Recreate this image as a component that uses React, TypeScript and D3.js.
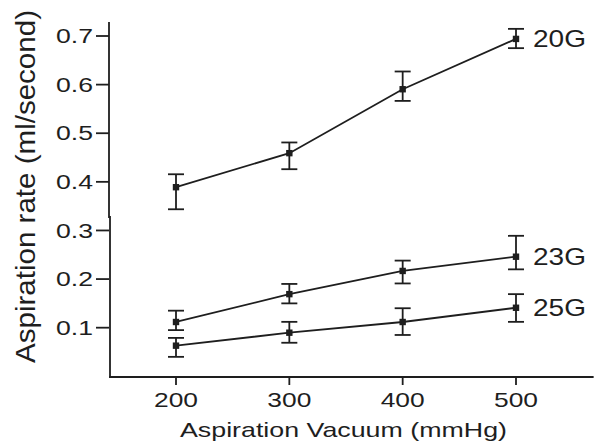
import React from "react";
import * as d3 from "d3";

const vacuum = [200, 300, 400, 500];
const seriesNames = ["20G", "23G", "25G"];
const mean20G = [0.389, 0.459, 0.5905, 0.694];
const upper20G = [0.4156, 0.481, 0.627, 0.7147];
const lower20G = [0.3436, 0.426, 0.5665, 0.675];
const mean23G = [0.1117, 0.169, 0.2167, 0.246];
const upper23G = [0.135, 0.19, 0.238, 0.289];
const lower23G = [0.095, 0.15, 0.191, 0.22];
const mean25G = [0.063, 0.0897, 0.1117, 0.141];
const upper25G = [0.079, 0.112, 0.14, 0.169];
const lower25G = [0.04, 0.069, 0.085, 0.112];
const yTicks = [0.1, 0.2, 0.3, 0.4, 0.5, 0.6, 0.7];
const xTicks = [200, 300, 400, 500];

const W = 598;
const H = 445;
const ink = "#1e1e1e";
const font = "'Liberation Sans', Arial, Helvetica, sans-serif";

export default function App() {
  const x = d3.scaleLinear().domain([200, 500]).range([176, 516]);
  const y = d3.scaleLinear().domain([0, 0.7]).range([376.3, 36]);
  const axisX0 = x(141);
  const axisX1 = x(568.5);
  const axisYTop = y(0.7288);
  const axisYBottom = 377;
  const line = d3
    .line<number>()
    .x((_, i) => x(vacuum[i]))
    .y((d) => y(d));

  const series = [
    { name: seriesNames[0], mean: mean20G, up: upper20G, lo: lower20G },
    { name: seriesNames[1], mean: mean23G, up: upper23G, lo: lower23G },
    { name: seriesNames[2], mean: mean25G, up: upper25G, lo: lower25G },
  ];

  return (
    <div style={{ position: "fixed", left: 0, top: 0, width: W, height: H, background: "#fff" }}>
      <svg width={W} height={H} style={{ display: "block" }}>
        <rect width={W} height={H} fill="#fff" />
        {/* axes */}
        <line x1={109} x2={109} y1={axisYTop} y2={218} stroke={ink} strokeWidth={1.8} />
        <line x1={110} x2={110} y1={216} y2={axisYBottom + 1} stroke={ink} strokeWidth={1.8} />
        <line x1={axisX0} x2={axisX1} y1={axisYBottom} y2={axisYBottom} stroke={ink} strokeWidth={2} />
        {yTicks.map((t) => (
          <g key={t}>
            <line x1={96} x2={109} y1={y(t)} y2={y(t)} stroke={ink} strokeWidth={1.8} />
            <text
              x={93}
              y={y(t)}
              dy="0.36em"
              textAnchor="end"
              fontFamily={font}
              fontSize={20}
              fill={ink}
              textLength={37}
              lengthAdjust="spacingAndGlyphs"
            >
              {t.toFixed(1)}
            </text>
          </g>
        ))}
        {xTicks.map((t) => (
          <g key={t}>
            <line x1={x(t)} x2={x(t)} y1={axisYBottom} y2={axisYBottom + 8} stroke={ink} strokeWidth={1.8} />
            <text
              x={x(t)}
              y={406.5}
              textAnchor="middle"
              fontFamily={font}
              fontSize={21}
              fill={ink}
              textLength={44}
              lengthAdjust="spacingAndGlyphs"
            >
              {t}
            </text>
          </g>
        ))}
        <text
          x={343.5}
          y={436.5}
          textAnchor="middle"
          fontFamily={font}
          fontSize={21}
          fill={ink}
          textLength={327}
          lengthAdjust="spacingAndGlyphs"
        >
          Aspiration Vacuum (mmHg)
        </text>
        <text
          transform={`translate(35,186.5) rotate(-90)`}
          textAnchor="middle"
          fontFamily={font}
          fontSize={28}
          fill={ink}
          textLength={353}
          lengthAdjust="spacingAndGlyphs"
        >
          Aspiration rate (ml/second)
        </text>
        {series.map((s) => (
          <g key={s.name}>
            <path d={line(s.mean) || ""} fill="none" stroke={ink} strokeWidth={1.8} />
            {s.mean.map((m, i) => {
              const cx = x(vacuum[i]);
              return (
                <g key={i}>
                  <line x1={cx} x2={cx} y1={y(s.up[i])} y2={y(s.lo[i])} stroke={ink} strokeWidth={1.8} />
                  <line x1={cx - 8} x2={cx + 8} y1={y(s.up[i])} y2={y(s.up[i])} stroke={ink} strokeWidth={1.8} />
                  <line x1={cx - 8} x2={cx + 8} y1={y(s.lo[i])} y2={y(s.lo[i])} stroke={ink} strokeWidth={1.8} />
                  <rect x={cx - 3.2} y={y(m) - 3.2} width={6.4} height={6.4} fill={ink} />
                </g>
              );
            })}
            <text
              x={533}
              y={y(s.mean[3])}
              dy="0.34em"
              fontFamily={font}
              fontSize={24}
              fill={ink}
              textLength={53}
              lengthAdjust="spacingAndGlyphs"
            >
              {s.name}
            </text>
          </g>
        ))}
      </svg>
    </div>
  );
}
